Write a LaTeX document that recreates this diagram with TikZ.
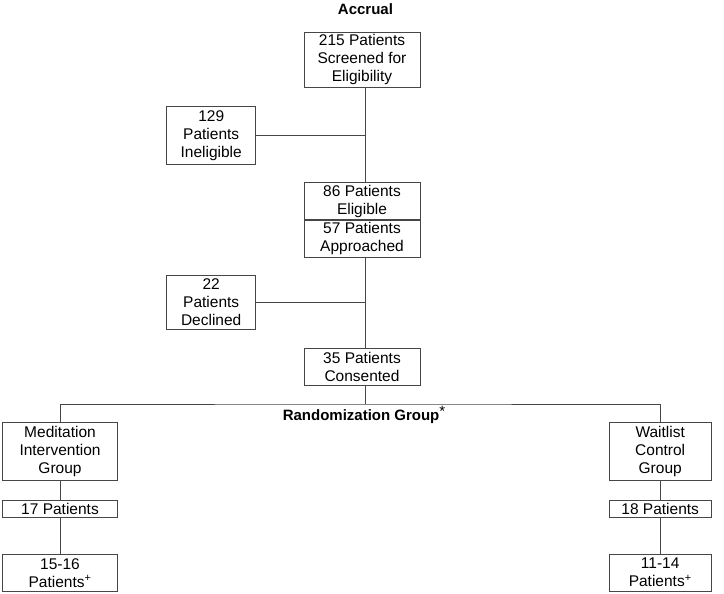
\documentclass[tikz,border=0pt]{standalone}
\usepackage{fontspec}
\setmainfont{Liberation Sans}
\usepackage{xcolor}
\usetikzlibrary{positioning}

\definecolor{linegray}{RGB}{70,70,70}

\begin{document}
\begin{tikzpicture}[
  x=1pt, y=-1pt,
  font=\fontsize{15.5}{18}\selectfont,
  box/.style={draw=linegray, line width=0.9pt, align=center, inner sep=0pt,
              minimum width=116pt},
  sidebox/.style={box, minimum width=89pt},
  armbox/.style={box, minimum width=114.6pt},
  link/.style={draw=linegray, line width=0.9pt},
  title/.style={font=\fontsize{15}{18}\selectfont\bfseries}
]
\useasboundingbox (0,0) rectangle (724,594);
\node[title] (accrual) at (365.5,9) {Accrual};
\node[box, minimum height=55pt] (screen) at (362,59.8)
  {215 Patients\\Screened for\\Eligibility};
\node[sidebox, minimum height=58pt] (inelig) at (211.2,135.2)
  {129\\Patients\\Ineligible};
\node[box, minimum height=37pt] (elig) at (362,201.2)
  {86 Patients\\Eligible};
\node[box, minimum height=36.6pt, below=0pt of elig] (appr)
  {57 Patients\\Approached};
\node[sidebox, minimum height=54.7pt] (declined) at (211.2,302.3)
  {22\\Patients\\Declined};
\node[box, minimum height=36.7pt] (consent) at (362,366.7)
  {35 Patients\\Consented};
\node[title] (random) at (364,414.5)
  {Randomization Group\raisebox{4pt}{\fontsize{15}{15}\selectfont\mdseries *}};
% left arm
\node[armbox, minimum height=57.3pt] (medit) at (60,451.3)
  {Meditation\\Intervention\\Group};
\node[armbox, minimum height=17.7pt] (medcount) at (60,508.8) {17 Patients};
\node[armbox, minimum height=37.3pt] (medfinal) at (60,572.7)
  {15-16\\Patients\textsuperscript{+}};
% right arm
\node[box, minimum width=101.7pt, minimum height=57.3pt] (wait) at (660.2,451.3)
  {Waitlist\\Control\\Group};
\node[box, minimum width=101.7pt, minimum height=17.7pt] (waitcount) at (660.2,508.8)
  {18 Patients};
\node[box, minimum width=101.7pt, minimum height=37.3pt] (waitfinal) at (660.2,572.7)
  {11-14\\Patients\textsuperscript{+}};

\coordinate (split) at (365.7,404);
\draw[link] ([xshift=3.7pt]screen.south) -- ([xshift=3.7pt]elig.north);
\draw[link] (inelig.east) -- (inelig.east -| split);
\draw[link] ([xshift=3.7pt]appr.south) -- ([xshift=3.7pt]consent.north);
\draw[link] (declined.east) -- (declined.east -| split);
\draw[link] ([xshift=3.7pt]consent.south) -- (split);
\draw[link] (medit.north) |- (split) -| (wait.north);
\foreach \a/\b in {medit/medcount, medcount/medfinal,
                   wait/waitcount, waitcount/waitfinal}
  \draw[link] (\a.south) -- (\b.north);
\end{tikzpicture}
\end{document}
